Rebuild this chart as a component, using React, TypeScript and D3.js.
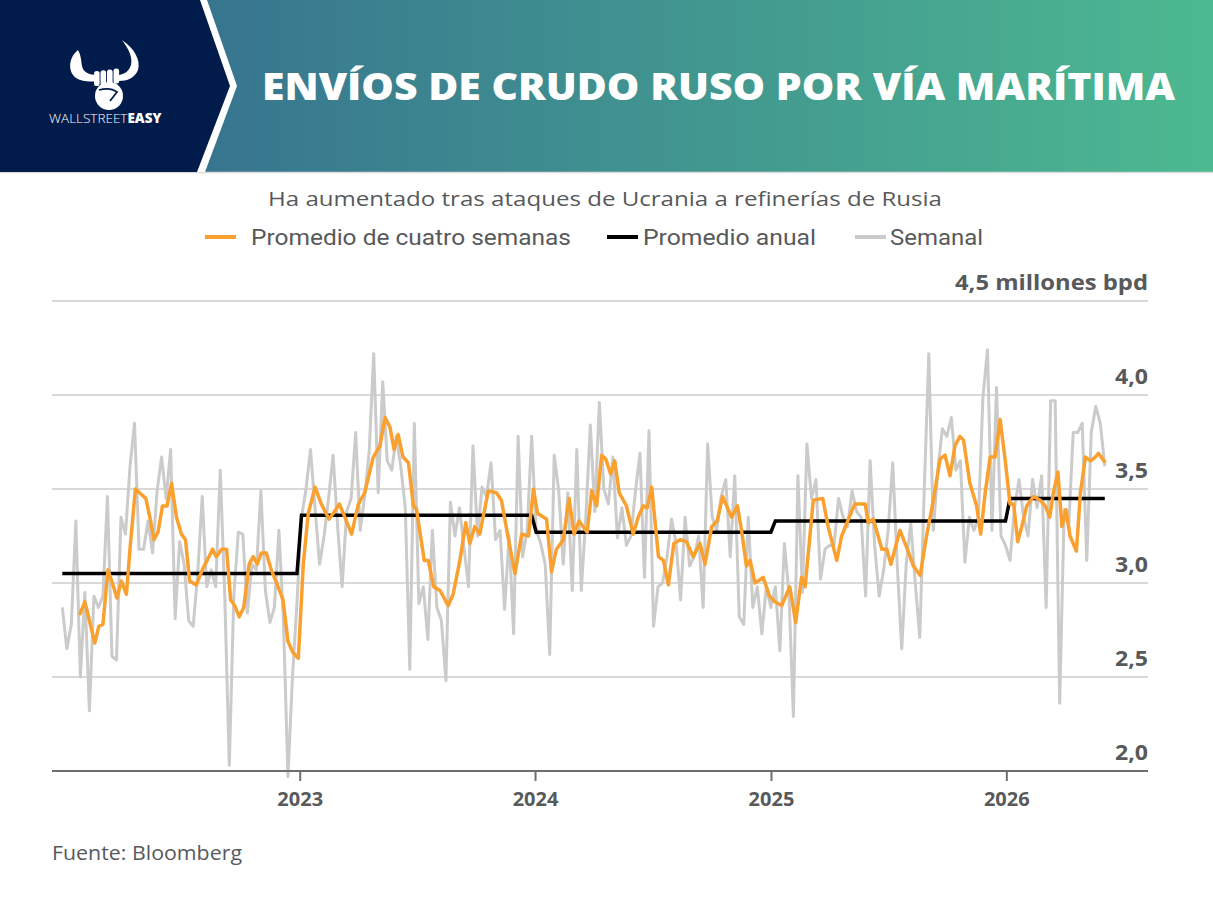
import React, { useEffect, useRef } from "react";
import * as d3 from "d3";

// first weekly observation; week i sits at START + 7*i days
const START = new Date(2021, 11, 28);

// Semanal, millones bpd
const weekly = [
  2.87, 2.65, 2.78, 3.33, 2.5, 2.95, 2.32, 2.93, 2.87, 2.93,
  3.46, 2.61, 2.59, 3.35, 3.26, 3.62, 3.85, 3.18, 3.18, 3.33,
  3.16, 3.49, 3.67, 3.45, 3.71, 2.81, 3.22, 3.1, 2.8, 2.77,
  3.05, 3.46, 2.98, 3.07, 2.98, 3.6, 2.93, 2.03, 2.93, 3.27,
  3.26, 2.84, 3.1, 3.07, 3.49, 2.96, 2.79, 2.87, 3.28, 2.8,
  1.97, 2.5, 2.9, 3.35, 3.5, 3.71, 3.4, 3.1, 3.25, 3.45,
  3.68, 3.3, 2.98, 3.38, 3.45, 3.8, 3.28, 3.46, 3.7, 4.22,
  3.48, 4.07, 3.65, 3.6, 3.78, 3.62, 3.4, 2.54, 3.85, 2.89,
  2.98, 2.7, 3.28, 2.87, 2.8, 2.48, 3.43, 3.25, 3.4, 3.19,
  2.98, 3.73, 3.25, 3.51, 3.46, 3.64, 3.23, 3.28, 2.86, 3.25,
  2.73, 3.78, 3.14, 3.28, 3.78, 3.28, 3.21, 3.1, 2.62, 3.68,
  3.49, 3.1, 3.48, 2.96, 3.71, 2.96, 3.35, 3.84, 3.38, 3.96,
  3.5, 3.42, 3.67, 3.24, 3.4, 3.2, 3.25, 3.49, 3.69, 3.03,
  3.81, 2.77, 2.98, 3.0, 3.14, 3.34, 3.21, 2.91, 3.35, 3.09,
  3.14, 3.25, 2.87, 3.74, 3.35, 3.28, 3.46, 3.55, 3.14, 3.57,
  2.82, 2.78, 3.35, 2.87, 2.98, 2.73, 2.98, 2.87, 2.98, 2.64,
  3.21, 2.95, 2.29, 3.57, 2.95, 3.74, 3.45, 3.55, 3.02, 3.18,
  3.2, 3.2, 3.45, 3.35, 3.3, 3.49, 3.38, 3.35, 2.93, 3.65,
  3.2, 2.93, 3.07, 3.28, 3.64, 3.1, 2.65, 3.1, 3.32, 3.0,
  2.71, 3.5, 4.22, 3.28, 3.6, 3.82, 3.78, 3.88, 3.6, 3.65,
  3.11, 3.35, 3.28, 3.35, 3.99, 4.24, 3.28, 4.04, 3.25, 3.2,
  3.12, 3.4, 3.55, 3.35, 3.25, 3.55, 3.4, 3.57, 2.87, 3.97,
  3.97, 2.36, 3.39, 3.3, 3.8, 3.8, 3.85, 3.12, 3.8, 3.94,
  3.85, 3.62,
];

// Promedio de cuatro semanas: [week offset from START, value]
const fourWeekAvg: [number, number][] = [
  [3.8, 2.83], [5.0, 2.9], [6.1, 2.79], [7.2, 2.68], [8.1, 2.77], [9.0, 2.78],
  [10.1, 3.07], [11.1, 3.0], [12.1, 2.92], [13.1, 3.01], [14.2, 2.94], [15.1, 3.21],
  [16.2, 3.5], [17.1, 3.48], [18.5, 3.45], [19.4, 3.35], [20.3, 3.23], [21.2, 3.27],
  [22.2, 3.41], [23.2, 3.41], [24.2, 3.53], [25.3, 3.35], [26.4, 3.26], [27.3, 3.23],
  [28.2, 3.01], [29.7, 2.99], [31.2, 3.08], [32.3, 3.13], [33.3, 3.18], [34.1, 3.14],
  [35.3, 3.18], [36.4, 3.18], [37.3, 2.91], [38.2, 2.88], [39.2, 2.82], [40.2, 2.87],
  [41.4, 3.1], [42.3, 3.14], [43.2, 3.1], [44.1, 3.16], [45.2, 3.16], [46.3, 3.07],
  [47.5, 3.0], [48.9, 2.91], [50.0, 2.69], [51.1, 2.63], [52.3, 2.6], [53.4, 3.1],
  [54.5, 3.37], [56.0, 3.51], [57.4, 3.42], [59.1, 3.34], [60.0, 3.37], [61.4, 3.42],
  [62.6, 3.35], [64.1, 3.26], [65.6, 3.42], [67.0, 3.48], [68.9, 3.67], [70.4, 3.73],
  [71.5, 3.88], [72.6, 3.83], [73.5, 3.71], [74.4, 3.79], [75.5, 3.67], [76.7, 3.64],
  [77.8, 3.41], [78.5, 3.39], [80.2, 3.12], [81.1, 3.12], [82.3, 2.98], [83.7, 2.96],
  [85.5, 2.88], [86.6, 2.94], [88.1, 3.12], [89.4, 3.32], [90.3, 3.21], [91.4, 3.3],
  [92.5, 3.26], [94.4, 3.49], [96.2, 3.48], [97.3, 3.44], [98.5, 3.28], [100.3, 3.05],
  [101.8, 3.26], [103.3, 3.25], [104.4, 3.5], [105.3, 3.37], [107.3, 3.34], [108.4, 3.06],
  [109.5, 3.18], [111.0, 3.23], [112.3, 3.45], [113.4, 3.26], [114.5, 3.33], [116.3, 3.27],
  [117.3, 3.49], [118.4, 3.41], [119.5, 3.68], [120.4, 3.66], [121.5, 3.58], [122.4, 3.65],
  [123.4, 3.48], [125.0, 3.41], [126.5, 3.26], [127.6, 3.35], [128.7, 3.41], [129.6, 3.4],
  [130.6, 3.51], [132.1, 3.14], [133.2, 3.12], [134.3, 2.99], [135.5, 3.21], [136.9, 3.23],
  [138.3, 3.22], [139.8, 3.14], [141.3, 3.21], [142.4, 3.1], [143.9, 3.3], [145.1, 3.33],
  [146.3, 3.46], [147.2, 3.41], [148.3, 3.35], [149.6, 3.41], [150.5, 3.28], [151.6, 3.09],
  [152.4, 3.12], [153.5, 3.0], [155.3, 3.03], [156.7, 2.93], [157.9, 2.9], [159.4, 2.88],
  [161.2, 2.98], [162.5, 2.79], [163.8, 3.03], [164.6, 2.98], [166.4, 3.44], [168.5, 3.45],
  [169.7, 3.3], [171.6, 3.12], [172.7, 3.25], [174.2, 3.34], [175.6, 3.42], [177.9, 3.42],
  [178.6, 3.32], [179.7, 3.34], [181.6, 3.18], [182.7, 3.18], [183.6, 3.1], [185.6, 3.28],
  [187.1, 3.19], [188.6, 3.09], [190.1, 3.04], [191.5, 3.25], [193.0, 3.44], [194.5, 3.66],
  [195.6, 3.68], [196.7, 3.57], [197.8, 3.73], [198.9, 3.78], [199.7, 3.76], [201.1, 3.53],
  [202.6, 3.41], [203.5, 3.26], [204.5, 3.48], [205.6, 3.67], [206.7, 3.67], [207.8, 3.87],
  [208.9, 3.66], [210.0, 3.42], [210.8, 3.42], [211.7, 3.22], [212.6, 3.3], [213.7, 3.41],
  [215.2, 3.46], [216.7, 3.44], [217.8, 3.41], [218.8, 3.35], [219.6, 3.48], [220.6, 3.59],
  [221.5, 3.3], [222.4, 3.39], [223.3, 3.25], [224.7, 3.17], [225.6, 3.48], [226.7, 3.67],
  [227.8, 3.65], [228.9, 3.67], [229.6, 3.69], [231.1, 3.64],
];

// Promedio anual
const annualYears = [2022, 2023, 2024, 2025, 2026];
const annualValues = [3.05, 3.36, 3.27, 3.33, 3.45];

const yTicks = [2, 2.5, 3, 3.5, 4, 4.5];
const yearTicks = [2023, 2024, 2025, 2026];

const legendItems = [
  { label: "Promedio de cuatro semanas", color: "#F9A02F", x: 205, gap: 46, width: 320 },
  { label: "Promedio anual", color: "#000000", x: 607, gap: 36, width: 173 },
  { label: "Semanal", color: "#CBCBCB", x: 855, gap: 35, width: 93 },
];

const W = 1213;
const H = 897;
const TEXT = "#58595B";
const NAVY = "#011B4B";
const SANS = "'Open Sans', 'Noto Sans', sans-serif";

const weekDate = (w: number) => new Date(START.getTime() + w * 7 * 864e5);

export default function App() {
  const svgRef = useRef<SVGSVGElement>(null);

  useEffect(() => {
    if (!svgRef.current) return;
    const svg = d3.select(svgRef.current);
    svg.selectAll("*").remove();

    // ---- header band
    const defs = svg.append("defs");
    const grad = defs.append("linearGradient").attr("id", "hdr").attr("x1", 0).attr("x2", 1);
    grad.append("stop").attr("offset", "0%").attr("stop-color", "#33678F");
    grad.append("stop").attr("offset", "100%").attr("stop-color", "#4CB990");

    svg.append("rect").attr("width", W).attr("height", 172).attr("fill", "url(#hdr)");
    svg.append("line")
      .attr("x1", 0).attr("x2", W).attr("y1", 172.5).attr("y2", 172.5)
      .style("stroke", "#dcdcdc").style("stroke-width", 1.5);
    svg.append("polygon").attr("points", "0,0 207,0 237,86 205,172 0,172").attr("fill", "#fff");
    svg.append("polygon").attr("points", "0,0 200,0 230,86 197,172 0,172").attr("fill", NAVY);

    // logo: horns + fist
    const logo = svg.append("g").attr("fill", "#fff");
    logo.append("path").attr("d", "M78,50 C69,57 67,71 76,78 C83,82 90,82 97,81 L97,75 C89,75 83,72 82,66 C81,60 81,55 78,50 Z");
    logo.append("path").attr("d", "M122,40 C128,48 133,57 131,65 C129,71 125,74 119,75 L119,81 C127,81 135,78 138,70 C141,60 134,48 122,40 Z");
    [94, 100.5, 107, 113.5].forEach((fx, k) => {
      logo.append("rect")
        .attr("x", fx).attr("y", 71 - k * 0.8).attr("width", 5.6).attr("height", 15).attr("rx", 2.6);
    });
    logo.append("circle").attr("cx", 109).attr("cy", 96).attr("r", 14);
    logo.append("path")
      .attr("d", "M99,90 C106,88 113,89 117,92 L110,101")
      .attr("fill", "none").style("stroke", NAVY).style("stroke-width", 1.8);
    const brand = svg.append("text")
      .attr("x", 49).attr("y", 123)
      .style("font-family", SANS).style("font-size", "13.5px").style("fill", "#fff");
    brand.append("tspan").style("font-weight", 300).text("WALLSTREET");
    brand.append("tspan").style("font-weight", 800).text("EASY");

    svg.append("text")
      .attr("x", 262).attr("y", 100)
      .attr("textLength", 913).attr("lengthAdjust", "spacingAndGlyphs")
      .style("font-family", SANS).style("font-weight", 800).style("font-size", "37px")
      .style("fill", "#fff")
      .text("ENVÍOS DE CRUDO RUSO POR VÍA MARÍTIMA");

    // ---- subtitle + legend
    svg.append("text")
      .attr("x", 268).attr("y", 206)
      .attr("textLength", 674).attr("lengthAdjust", "spacingAndGlyphs")
      .style("font-family", SANS).style("font-size", "20px").style("fill", TEXT)
      .text("Ha aumentado tras ataques de Ucrania a refinerías de Rusia");

    legendItems.forEach((it) => {
      svg.append("line")
        .attr("x1", it.x).attr("x2", it.x + 31).attr("y1", 237).attr("y2", 237)
        .style("stroke", it.color).style("stroke-width", 4);
      svg.append("text")
        .attr("x", it.x + it.gap).attr("y", 245)
        .attr("textLength", it.width).attr("lengthAdjust", "spacingAndGlyphs")
        .style("font-family", "Roboto, sans-serif").style("font-size", "22px").style("fill", TEXT)
        .text(it.label);
    });

    // ---- scales
    const x = d3.scaleTime()
      .domain([new Date(2021, 11, 12), new Date(2026, 7, 8)])
      .range([52, 1148]);
    const y = d3.scaleLinear().domain([2, 4.5]).range([771, 301]);

    // grid
    yTicks.filter((t) => t > 2).forEach((t) => {
      svg.append("line")
        .attr("x1", 52).attr("x2", 1148).attr("y1", y(t)).attr("y2", y(t))
        .style("stroke", "#D9D9D9").style("stroke-width", 2);
    });

    // weekly
    const weeklyLine = d3.line<number>()
      .x((_, i) => x(weekDate(i)))
      .y((d) => y(d));
    svg.append("path")
      .datum(weekly)
      .attr("d", weeklyLine)
      .style("fill", "none").style("stroke", "#CBCBCB").style("stroke-width", 3)
      .style("stroke-linejoin", "round");

    // annual average, stepping per calendar year on the weekly grid
    const annualPts = weekly.map((_, i) => {
      const d = weekDate(i);
      const yr = Math.max(annualYears[0], d.getFullYear());
      return { d, v: annualValues[annualYears.indexOf(yr)] };
    });
    svg.append("path")
      .datum(annualPts)
      .attr("d", d3.line<{ d: Date; v: number }>().x((p) => x(p.d)).y((p) => y(p.v)))
      .style("fill", "none").style("stroke", "#000").style("stroke-width", 3.5);

    // 4-week average
    svg.append("path")
      .datum(fourWeekAvg)
      .attr("d", d3.line<[number, number]>().x((p) => x(weekDate(p[0]))).y((p) => y(p[1])))
      .style("fill", "none").style("stroke", "#F9A02F").style("stroke-width", 3.5)
      .style("stroke-linejoin", "round");

    // baseline + x axis
    svg.append("line")
      .attr("x1", 52).attr("x2", 1148).attr("y1", y(2)).attr("y2", y(2))
      .style("stroke", "#6E6E6E").style("stroke-width", 2);

    yearTicks.forEach((yr) => {
      const px = x(new Date(yr, 0, 1));
      svg.append("line")
        .attr("x1", px).attr("x2", px).attr("y1", y(2)).attr("y2", y(2) + 10)
        .style("stroke", "#6E6E6E").style("stroke-width", 2);
      svg.append("text")
        .attr("x", px).attr("y", 806).attr("text-anchor", "middle")
        .style("font-family", SANS).style("font-weight", 700).style("font-size", "20px")
        .style("fill", TEXT)
        .text(String(yr));
    });

    // y labels (right side, above grid lines)
    const fmt = (v: number) => d3.format(".1f")(v).replace(".", ",");
    yTicks.forEach((t) => {
      const label = svg.append("text")
        .attr("x", 1148).attr("y", y(t) - 11.5).attr("text-anchor", "end")
        .style("font-family", SANS).style("font-weight", 700).style("font-size", "21px")
        .style("fill", TEXT);
      if (t === 4.5) {
        label.attr("textLength", 193).attr("lengthAdjust", "spacingAndGlyphs")
          .text(`${fmt(t)} millones bpd`);
      } else {
        label.attr("textLength", 33).attr("lengthAdjust", "spacingAndGlyphs").text(fmt(t));
      }
    });

    // source
    svg.append("text")
      .attr("x", 52).attr("y", 860)
      .attr("textLength", 190).attr("lengthAdjust", "spacingAndGlyphs")
      .style("font-family", SANS).style("font-size", "20px").style("fill", TEXT)
      .text("Fuente: Bloomberg");
  }, []);

  return (
    <svg
      ref={svgRef}
      width={W}
      height={H}
      style={{ position: "absolute", left: 0, top: 0, background: "#fff" }}
    />
  );
}
